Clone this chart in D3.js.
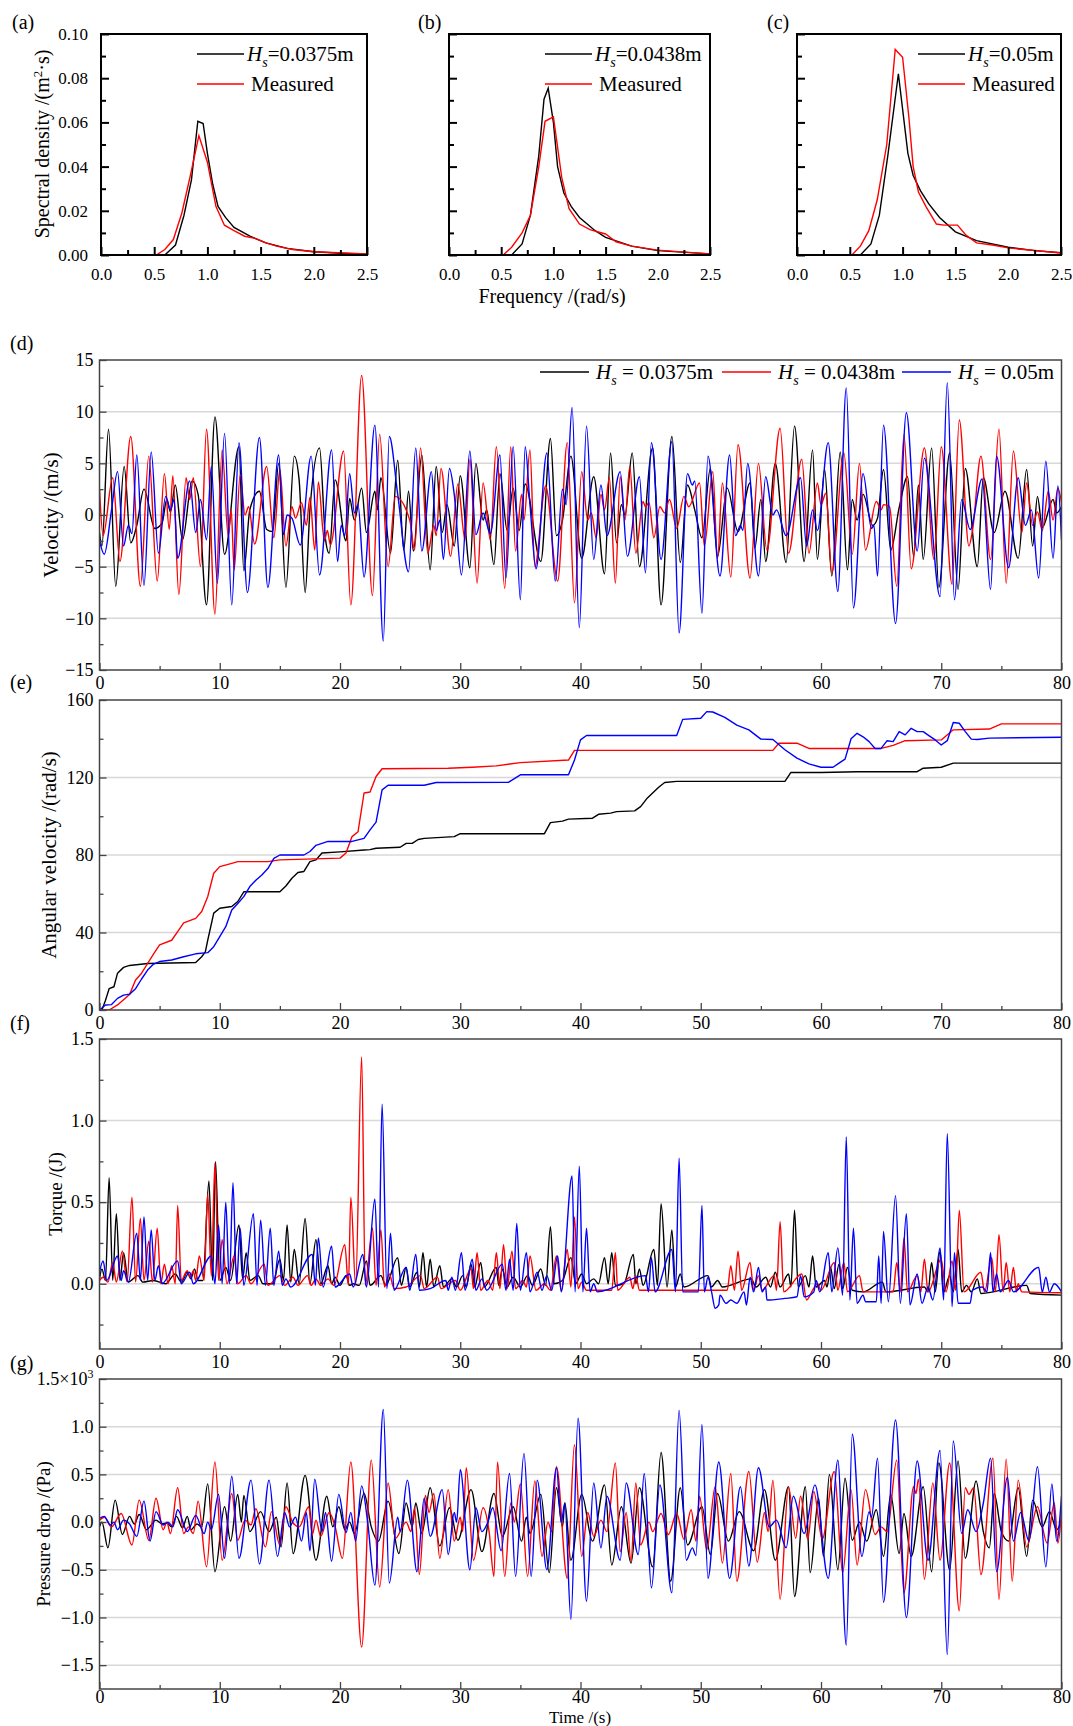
<!DOCTYPE html>
<html><head><meta charset="utf-8">
<script src="https://cdn.jsdelivr.net/npm/d3@7"></script>
<style>body{margin:0;background:#fff} svg text{font-family:"Liberation Serif","Times New Roman",Times,serif}</style>
</head><body>
<script>
// ---------- DATA ----------
const specTicksX = [0,0.5,1.0,1.5,2.0,2.5];
const specTicksY = [0,0.02,0.04,0.06,0.08,0.10];
const timeTicks = [0,10,20,30,40,50,60,70,80];
const legendHs = ["0.0375m","0.0438m","0.05m"];

const specA_black = [[0.6,0],[0.7,0.0045],[0.78,0.018],[0.85,0.034],[0.91,0.0605],[0.96,0.0595],[1.0,0.046],[1.05,0.032],[1.1,0.022],[1.17,0.017],[1.25,0.0125],[1.4,0.0085],[1.55,0.0055],[1.75,0.003],[2.0,0.0015],[2.25,0.0008],[2.5,0.0004]];
const specA_red = [[0.52,0],[0.6,0.0025],[0.68,0.007],[0.76,0.019],[0.84,0.036],[0.92,0.054],[1.0,0.042],[1.08,0.022],[1.16,0.0135],[1.25,0.011],[1.35,0.0085],[1.45,0.0075],[1.55,0.0055],[1.65,0.004],[1.8,0.0025],[2.0,0.0015],[2.5,0.0005]];
const specB_black = [[0.6,0],[0.7,0.005],[0.78,0.018],[0.86,0.045],[0.91,0.0705],[0.95,0.0755],[1.0,0.06],[1.04,0.04],[1.1,0.028],[1.17,0.022],[1.25,0.017],[1.4,0.011],[1.5,0.008],[1.75,0.004],[2.0,0.002],[2.5,0.0005]];
const specB_red = [[0.52,0],[0.6,0.0035],[0.7,0.01],[0.78,0.018],[0.86,0.04],[0.92,0.0605],[1.0,0.0625],[1.08,0.035],[1.15,0.021],[1.25,0.014],[1.35,0.0115],[1.5,0.0095],[1.6,0.006],[1.75,0.004],[2.0,0.0022],[2.5,0.0005]];
const specC_black = [[0.6,0],[0.7,0.005],[0.78,0.018],[0.86,0.045],[0.96,0.082],[1.0,0.066],[1.05,0.046],[1.1,0.036],[1.17,0.029],[1.25,0.023],[1.35,0.017],[1.5,0.0105],[1.7,0.0065],[2.0,0.0035],[2.25,0.002],[2.5,0.001]];
const specC_red = [[0.52,0],[0.6,0.004],[0.68,0.011],[0.76,0.025],[0.85,0.05],[0.93,0.093],[1.0,0.0895],[1.06,0.062],[1.1,0.04],[1.15,0.0285],[1.22,0.022],[1.32,0.014],[1.39,0.0135],[1.52,0.0135],[1.6,0.009],[1.7,0.0055],[1.85,0.0045],[2.0,0.0032],[2.5,0.0009]];

// (d) velocity, [time, value] at peaks/troughs
const vel_0375 = [[0,-1.7],[0.2,-3],[0.75,8.3],[1.35,-6.9],[2.05,4.7],[2.6,-2.7],[3.1,-1.0],[3.7,2.5],[4.6,-1.3],[5.2,-0.8],[5.6,1.5],[5.9,0.3],[6.3,2.9],[6.9,-2.4],[7.7,3.3],[8.2,2.0],[8.9,-8.7],[9.6,9.5],[10.4,-3.8],[11.6,6.6],[12.0,-5.4],[12.5,0.5],[13.3,2.3],[13.9,-1.4],[14.4,-1.6],[14.9,5.0],[15.5,-7.0],[16.2,5.7],[16.6,3.4],[17.1,-7.5],[17.5,0.5],[18.3,6.5],[18.8,-2.4],[19.1,-3.7],[19.6,3.4],[20.5,-2.5],[20.8,1.6],[21.2,-0.5],[21.8,2.6],[22.2,-1.7],[22.9,2.3],[23.1,0.5],[23.4,3.6],[24.2,-3.7],[24.8,5.3],[25.3,-3.4],[25.7,2.3],[26.1,-3.5],[26.8,5.8],[27.5,-5.3],[28.0,4.7],[28.5,-1.7],[28.9,1.0],[29.5,-3.0],[30.0,3.8],[30.8,-5.1],[31.3,5.0],[31.9,-0.5],[32.2,0.5],[32.8,-4.8],[33.3,4.0],[33.9,-1.5],[34.4,2.6],[34.9,-1.5],[35.4,3.0],[36.7,-4.5],[37.5,7.4],[38.0,-2.0],[38.5,-0.5],[39.2,5.7],[40.1,-4.2],[41.1,3.7],[42.0,-5.7],[42.5,6.0],[43.0,-2.7],[43.4,1.0],[43.7,0],[44.3,6.0],[44.9,-5.0],[46.0,6.5],[46.7,-8.7],[47.6,7.6],[48.3,-4.6],[48.9,2.9],[49.5,0.5],[50.1,-2.2],[50.8,4.5],[51.4,-4.0],[52.2,2.6],[53.1,-1.6],[54.1,3.1],[54.5,-3.2],[55.0,1.5],[55.4,-4.5],[56.2,5.0],[57.1,-4.6],[57.8,8.6],[58.6,-4.5],[59.3,6.3],[59.7,-4.3],[60.3,4.4],[60.9,-5.9],[61.6,6.1],[62.2,-5.3],[62.6,1.5],[63.0,-0.5],[63.5,2.0],[64.3,-1.0],[64.7,-0.3],[65.2,4.4],[65.8,-3.4],[66.5,0.7],[67.2,3.7],[67.7,-4.0],[68.1,2.9],[68.5,-4.3],[69.2,6.5],[69.8,-7.0],[70.7,6.0],[71.4,-7.2],[72.0,4.5],[73.0,-5.0],[73.5,3.6],[74.4,-1.7],[75.3,2.3],[76.4,-4.2],[77.1,4.4],[77.6,-3.0],[78.0,1.8],[78.4,-1.2],[79.3,1.5],[79.6,0.2],[80,0.8]];
const vel_0438 = [[0,2.5],[0.3,-2.0],[1.1,3.6],[1.7,-4.5],[2.6,7.6],[3.4,-6.9],[4.1,5.7],[4.8,-6.4],[5.4,4.0],[5.8,-1.4],[6.1,3.8],[6.6,-7.7],[7.2,3.6],[7.5,1.5],[7.8,3.6],[8.4,-5.0],[8.9,8.3],[9.6,-9.6],[10.2,6.3],[10.7,-2.0],[10.95,0.5],[11.2,-5.3],[11.7,3.9],[12.1,0.0],[12.4,0.8],[12.9,-2.8],[13.9,4.7],[14.5,-2.2],[15.0,4.4],[15.5,-3.0],[16.0,0.8],[16.3,-0.3],[16.8,1.2],[17.2,-1.0],[17.5,1.7],[17.9,-3.4],[18.2,3.2],[18.7,-2.5],[18.95,-1.5],[19.2,-2.9],[20.3,6.2],[20.9,-8.7],[21.8,13.5],[22.7,-7.8],[23.3,7.8],[24.0,-5.0],[24.6,1.8],[25.8,-0.5],[26.2,-3.4],[26.7,6.5],[27.3,-3.7],[27.8,-1.0],[28.0,-2.0],[28.4,4.5],[29.2,-4.0],[29.8,3.0],[30.4,-2.4],[30.8,5.4],[31.4,-6.6],[31.9,3.1],[32.5,-2.4],[33.0,6.6],[33.7,-7.1],[34.2,6.6],[34.6,-3.5],[35.1,2.0],[35.3,-0.5],[35.8,6.3],[36.2,-5.0],[37.1,2.8],[38.1,-6.4],[38.9,7.0],[39.5,-8.5],[40.1,4.2],[40.6,-0.5],[40.9,0.2],[41.3,-2.2],[41.7,2.0],[42.0,0.5],[42.4,3.6],[42.9,-6.6],[43.3,3.7],[43.7,-0.5],[44.1,4.7],[44.6,-3.7],[45.2,1.3],[45.4,0.8],[45.7,1.2],[46.1,-2.2],[46.6,0.8],[47.0,0.2],[47.4,1.5],[48.0,-1.3],[48.6,1.8],[49.0,0.8],[49.9,3.1],[50.3,-3.0],[51.0,4.2],[51.4,-4.2],[51.8,3.1],[52.5,-6.0],[53.1,6.8],[54.1,-6.1],[54.8,5.0],[55.5,-3.4],[56.6,8.4],[57.3,-3.7],[58.4,5.4],[59.0,-3.7],[59.7,3.1],[60.0,1.0],[60.4,2.1],[60.9,-5.6],[61.9,6.0],[62.6,-3.8],[63.2,5.0],[63.7,-3.4],[64.6,1.3],[65.0,0.5],[65.2,1.0],[65.7,0.8],[66.3,-6.9],[66.9,7.8],[67.5,-5.2],[68.6,6.5],[69.4,-4.3],[70.0,6.6],[70.9,-6.7],[71.5,9.2],[72.3,-3.0],[72.6,-1.5],[73.3,5.7],[74.1,-4.3],[74.8,8.3],[75.4,-6.6],[76.0,6.2],[76.7,-1.7],[77.1,3.1],[77.6,-1.0],[78.0,0.3],[78.4,-1.5],[78.9,2.3],[79.3,-0.5],[79.7,2.6],[80,1.2]];
const vel_05 = [[0,-2.5],[0.4,-3.8],[1.0,0.5],[1.5,4.2],[2.0,-3.0],[2.4,-1.0],[2.7,-1.8],[3.1,5.8],[3.7,-6.8],[4.3,6.1],[4.9,-3.7],[5.5,1.8],[5.9,0.5],[6.2,1.5],[6.5,-4.2],[7.5,3.3],[8.0,-1.7],[8.4,1.5],[8.9,-2.4],[9.3,4.7],[9.8,-6.6],[10.4,7.9],[11.0,-8.7],[11.6,7.0],[12.3,-7.5],[13.3,7.5],[14.0,-7.0],[14.9,5.8],[15.3,-1.9],[15.6,0.0],[16.0,-0.3],[16.7,-2.9],[17.6,5.7],[18.3,-5.8],[19.3,6.3],[19.8,-4.5],[20.1,-1.0],[20.4,-2.0],[20.8,4.0],[21.2,0.2],[21.5,1.0],[22.0,-6.0],[22.9,8.7],[23.6,-12.2],[24.1,7.6],[24.8,2.0],[25.7,-5.5],[26.3,6.5],[26.8,-3.5],[27.6,4.2],[28.0,-1.5],[28.3,-0.5],[28.6,-4.3],[29.1,4.5],[29.5,2.0],[30.1,-5.8],[30.8,6.2],[31.3,-1.9],[31.9,0.2],[32.5,-1.8],[33.3,5.8],[33.8,-6.1],[34.4,6.6],[35.0,-8.2],[35.4,6.6],[35.8,1.0],[36.3,-5.2],[37.2,6.0],[37.9,-6.4],[38.5,2.5],[38.8,1.0],[39.3,10.4],[39.9,-10.9],[40.5,8.6],[41.1,-4.3],[41.7,2.9],[42.2,-2.0],[43.3,4.2],[43.9,-4.0],[44.9,3.7],[45.4,-5.6],[45.9,7.0],[46.7,-4.3],[47.6,7.1],[48.2,-11.4],[48.9,4.0],[49.3,2.9],[49.5,3.3],[50.1,-9.5],[50.6,5.7],[51.6,-5.9],[52.4,5.8],[52.9,-2.0],[53.3,-1.0],[53.5,-1.5],[53.9,5.0],[54.8,-5.9],[55.4,3.7],[56.0,0.0],[56.3,0.5],[57.1,-2.0],[58.3,3.6],[58.8,-3.0],[59.3,0.5],[59.7,-1.5],[60.6,7.0],[61.4,-7.4],[62.1,12.3],[62.7,-9.0],[63.5,4.0],[64.2,-1.3],[64.4,-1.0],[64.7,-5.9],[65.2,8.7],[66.2,-10.5],[67.1,9.9],[68.0,-3.5],[68.6,5.5],[69.9,-7.9],[70.5,12.8],[71.1,-8.2],[71.7,1.5],[72.4,-1.4],[73.4,3.5],[74.1,-7.2],[74.6,5.7],[75.6,-5.1],[76.4,3.6],[77.0,-1.0],[77.5,0.5],[78.1,-6.1],[78.7,5.2],[79.3,-4.2],[79.7,2.8],[80,-2.4]];

// (e) angular velocity
const ang_0375 = [[0,0],[0.2,0],[0.5,5],[0.8,11],[1.2,12],[1.5,19],[2.0,22],[2.5,23],[4,24],[8,24.5],[8.5,27.5],[8.8,30],[9.0,36],[9.5,50],[10,52.5],[11,53.4],[11.5,56],[12,61],[15,61],[15.5,64],[16,68],[16.5,71],[17,71.5],[17.5,76.6],[18,77.5],[18.5,81],[20,81.6],[22,82.6],[22.5,82.8],[23,83.5],[25,84],[25.5,86],[26,86],[26.5,88],[27,88.6],[29.5,89.5],[30,91],[37,91],[37.5,96.7],[38.5,97.5],[39,98.5],[41,99],[41.5,101],[42.5,101.6],[43,102.4],[44.5,102.8],[45,105],[45.5,109],[46,112],[46.5,115],[47,117.4],[48,118],[57,118],[57.5,122.6],[60,122.6],[63,123],[68,123],[68.5,124.8],[70,125.3],[71,127.4],[80,127.4]];
const ang_0438 = [[0,0],[0.8,0],[1.5,2.6],[2.5,8],[3,15.5],[3.5,19],[4,24],[4.5,29],[5,33.6],[6,36],[6.5,40.5],[7,45],[8,47.3],[8.5,50.8],[9,58.5],[9.5,70.6],[10,74],[11,75.7],[11.5,76.6],[14,76.6],[15,77.5],[20,78.4],[20.5,81],[21,89.5],[21.5,92],[22,112],[22.5,112.5],[23,120.5],[23.5,124.5],[29,124.8],[31,125.3],[33,126],[35,127.7],[39,129],[39.5,134],[56,134],[56.5,137.7],[58,137.7],[59,135],[65,135],[66,136.6],[67,139],[70,139.4],[71,144.6],[74,145],[75,147.7],[80,147.7]];
const ang_05 = [[0,0],[0.5,2.6],[1.0,2.8],[1.5,6],[2,7.7],[2.5,8.2],[3,11],[3.5,16],[4,20.6],[4.5,23.7],[5,25],[6,25.8],[7,27.5],[8,29],[9,29.6],[9.5,32.7],[10,37.9],[10.5,43],[11,51.6],[11.5,55],[12,58.5],[12.5,63.7],[13,67],[13.5,69.7],[14,73],[14.5,78.3],[15,80],[17,80],[17.5,81.8],[18,85],[19,87],[21,87],[22,88.6],[22.5,93],[23,97],[23.5,113.6],[24,116],[27,116],[28,117.4],[34,117.5],[35,121.4],[39,121.4],[39.5,129],[40,139.4],[40.5,141.7],[48,141.7],[48.5,150],[50,150.6],[50.5,154],[51,153.8],[52,151],[53,147],[54,144.6],[55,139.8],[56,139.6],[57,134.3],[58,130],[59,127],[60,125.3],[61,125.3],[61.5,127.4],[62,129.5],[62.5,140],[63,142.8],[63.5,141],[64,138.5],[64.5,135],[65,135],[65.5,139],[66,138.5],[66.5,143.7],[67,142],[67.5,145.4],[68,143.7],[68.5,143.7],[69,141.5],[69.5,139.4],[70,136.8],[70.5,139],[71,148.4],[71.5,148],[72,143.7],[72.5,139.8],[73,139.6],[74,140.3],[80,140.8]];

// (f) torque
const tq_0375 = [[0,0.03],[0.2,0.09],[0.5,0.02],[0.8,0.65],[1.1,0.02],[1.4,0.43],[1.7,0.02],[2.0,0.19],[2.4,0.01],[3.2,0.05],[3.6,0.01],[4.5,0.02],[5.5,0.0],[6.3,0.06],[6.8,0.01],[7.3,0.07],[7.6,0.03],[7.9,0.09],[8.2,0.02],[8.6,0.02],[9.1,0.63],[9.4,0.02],[9.65,0.75],[10.0,0.02],[10.5,0.1],[10.9,0.02],[11.6,0.36],[11.9,0.03],[12.2,0.19],[12.5,0.02],[13.2,0.05],[13.6,0.0],[14.4,0.0],[15.0,0.15],[15.3,0.02],[15.6,0.36],[15.9,0.01],[16.2,0.21],[16.6,0.0],[17.1,0.4],[17.5,0.0],[18.0,0.27],[18.4,0.0],[19.0,0.11],[19.3,0.0],[19.6,0.04],[20.0,-0.01],[20.5,0.05],[20.8,-0.01],[21.1,0.0],[21.6,-0.01],[22.2,0.14],[22.5,-0.01],[23.4,0.05],[23.8,-0.01],[24.8,0.16],[25.1,-0.01],[25.5,0.1],[25.8,-0.02],[26.4,0.07],[26.6,-0.02],[26.9,0.19],[27.2,-0.02],[27.5,0.15],[27.8,-0.02],[28.3,0.11],[28.6,-0.02],[29.3,0.03],[29.7,-0.02],[30.2,0.05],[30.5,-0.02],[30.9,0.12],[31.2,-0.02],[31.7,0.13],[32.0,-0.02],[33.0,0.1],[33.2,-0.01],[33.5,0.09],[33.9,-0.02],[34.4,0.04],[35.0,-0.02],[35.6,0.05],[36.0,-0.01],[36.7,0.09],[37.1,-0.01],[37.5,0.35],[37.8,0.0],[38.5,0.02],[39.2,0.16],[39.6,0.0],[40.1,0.06],[40.5,0.0],[41.1,0.03],[41.5,0.0],[42.0,0.16],[42.3,0.0],[42.6,0.19],[42.9,-0.01],[43.6,0.0],[44.4,0.18],[44.6,0.0],[44.9,0.09],[45.2,-0.01],[46.1,0.21],[46.4,-0.01],[46.7,0.49],[47.2,-0.02],[47.6,0.33],[47.9,-0.02],[48.3,0.06],[48.6,-0.02],[50.6,0.05],[50.9,-0.02],[51.4,0.02],[51.8,-0.02],[54.2,0.03],[54.6,-0.02],[55.4,0.04],[55.8,-0.02],[56.2,0.07],[56.6,-0.02],[57.3,0.06],[57.5,-0.02],[57.8,0.45],[58.1,-0.02],[58.7,0.05],[59.0,-0.02],[59.3,0.17],[59.6,-0.02],[60.3,0.02],[60.5,-0.02],[60.8,0.1],[61.1,-0.03],[61.5,0.12],[61.8,-0.03],[62.2,0.1],[62.6,-0.04],[63.5,-0.05],[65.1,0.01],[65.4,-0.05],[68.6,-0.02],[68.9,-0.05],[69.2,0.13],[69.5,-0.05],[69.9,0.2],[70.2,-0.05],[70.7,0.05],[71.0,-0.05],[71.4,0.21],[71.7,-0.05],[72.1,-0.01],[72.5,-0.05],[73.0,0.03],[73.3,-0.06],[77.1,-0.01],[77.4,-0.06],[80,-0.07]];
const tq_0438 = [[0,0.02],[0.3,0.04],[0.7,0.01],[1.1,0.13],[1.4,0.01],[1.9,0.2],[2.3,0.01],[2.7,0.53],[3.0,0.01],[3.4,0.4],[3.7,0.02],[4.1,0.26],[4.4,0.01],[4.8,0.34],[5.1,0.0],[5.4,0.12],[5.7,0.0],[6.0,0.11],[6.3,0.0],[6.5,0.48],[6.8,0.02],[7.3,0.08],[7.55,0.04],[7.8,0.08],[8.0,0.02],[8.3,0.17],[8.7,0.02],[9.0,0.55],[9.3,0.05],[9.6,0.74],[9.9,0.02],[10.2,0.27],[10.6,0.0],[11.2,0.17],[11.5,0.0],[12.2,0.05],[12.6,0.0],[13.7,0.12],[14.0,-0.01],[15.0,0.05],[15.4,-0.01],[16.1,0.04],[16.5,-0.01],[17.3,0.05],[17.6,-0.01],[18.0,0.03],[18.4,-0.01],[19.0,0.03],[19.5,-0.01],[20.4,0.24],[20.7,-0.01],[20.9,0.53],[21.3,-0.01],[21.8,1.39],[22.1,-0.01],[22.7,0.34],[23.0,-0.01],[23.4,0.33],[23.7,-0.02],[24.1,0.06],[24.5,-0.03],[25.5,-0.02],[26.7,0.05],[27.0,-0.03],[28.1,0.04],[28.4,-0.03],[29.6,0.02],[30.0,-0.04],[30.9,0.09],[31.1,-0.03],[31.4,0.19],[31.7,-0.04],[32.3,0.02],[32.7,-0.04],[33.0,0.19],[33.3,-0.03],[33.6,0.24],[33.9,-0.03],[34.3,0.2],[34.6,-0.03],[35.2,0.02],[35.5,-0.02],[35.8,0.17],[36.3,-0.04],[37.0,0.0],[37.5,-0.04],[38.0,0.17],[38.4,-0.04],[38.9,0.21],[39.2,-0.02],[39.5,0.41],[39.8,-0.03],[40.1,0.01],[40.5,-0.04],[42.6,-0.04],[42.9,0.19],[43.1,-0.04],[44.1,0.04],[44.35,-0.03],[44.6,0.05],[44.9,-0.04],[52.2,-0.04],[52.5,0.11],[52.8,-0.04],[53.1,0.2],[53.4,-0.04],[54.1,0.13],[54.4,-0.04],[54.8,0.05],[55.1,-0.04],[56.1,0.05],[56.3,-0.04],[56.6,0.38],[56.9,-0.05],[58.4,0.06],[58.8,-0.1],[59.3,-0.04],[59.7,0.0],[60.0,-0.04],[61.1,0.13],[61.4,-0.04],[61.9,0.13],[62.2,-0.05],[63.2,0.05],[63.5,-0.05],[66.0,-0.05],[66.3,0.13],[66.6,-0.05],[66.9,0.28],[67.2,-0.05],[68.0,0.05],[68.3,-0.05],[68.6,0.15],[68.9,-0.05],[70.0,0.15],[70.4,-0.05],[70.9,0.14],[71.2,-0.04],[71.5,0.45],[71.9,-0.05],[73.3,0.07],[73.6,-0.05],[74.2,0.16],[74.5,-0.05],[74.8,0.3],[75.15,-0.05],[75.4,0.13],[75.7,-0.05],[76.0,0.1],[76.25,-0.05],[76.4,0.0],[76.7,-0.05],[80,-0.055]];
const tq_05 = [[0,0.07],[0.3,0.14],[0.6,0.02],[1.5,0.17],[1.8,0.02],[2.0,0.08],[2.4,0.01],[3.1,0.31],[3.4,0.02],[3.7,0.41],[4.0,0.02],[4.3,0.33],[4.6,0.02],[4.9,0.11],[5.2,0.0],[6.5,0.14],[6.8,0.0],[7.5,0.07],[7.8,0.0],[9.3,0.17],[9.6,0.0],[9.9,0.36],[10.2,0.0],[10.5,0.5],[10.8,0.0],[11.1,0.62],[11.4,0.0],[11.7,0.34],[12.0,-0.01],[12.8,0.43],[13.1,-0.01],[13.4,0.39],[13.8,-0.01],[14.2,0.34],[14.5,-0.01],[14.9,0.2],[15.2,-0.01],[15.5,0.03],[15.9,-0.02],[17.7,0.18],[17.95,-0.01],[18.2,0.28],[18.6,-0.02],[19.3,0.23],[19.6,-0.02],[20.8,0.06],[21.1,-0.02],[21.9,0.18],[22.2,-0.02],[22.9,0.52],[23.2,-0.02],[23.5,1.1],[23.9,-0.03],[24.2,0.31],[24.5,-0.04],[25.5,0.1],[25.8,-0.04],[26.3,0.18],[26.6,-0.04],[27.5,-0.03],[28.8,0.02],[29.0,-0.04],[29.3,0.04],[29.6,-0.04],[30.1,0.19],[30.4,-0.04],[31.0,0.15],[31.3,-0.04],[31.8,0.03],[32.2,-0.04],[33.5,0.12],[33.8,-0.04],[34.1,0.15],[34.4,-0.04],[34.7,0.37],[35.0,-0.04],[35.5,0.19],[35.8,-0.05],[36.4,0.07],[36.8,-0.04],[37.2,0.05],[37.6,-0.04],[38.1,0.17],[38.4,-0.05],[39.3,0.66],[39.55,-0.05],[39.9,0.72],[40.2,-0.05],[40.5,0.34],[40.8,-0.05],[41.1,0.0],[41.4,-0.05],[45.4,0.05],[45.65,-0.05],[45.9,0.16],[46.2,-0.05],[47.6,0.21],[47.9,-0.05],[48.2,0.77],[48.5,-0.05],[49.8,-0.05],[50.1,0.48],[50.3,-0.05],[50.6,0.04],[50.9,-0.05],[51.2,-0.15],[51.5,-0.13],[51.6,-0.07],[52.1,-0.12],[52.5,-0.1],[53.0,-0.12],[53.6,-0.05],[53.8,-0.13],[54.1,0.04],[54.4,-0.05],[54.8,0.1],[55.1,-0.05],[55.4,-0.02],[55.5,-0.1],[57.0,-0.09],[58.0,-0.08],[58.3,0.05],[58.6,-0.08],[59.4,-0.05],[59.6,0.02],[59.9,-0.05],[60.6,0.19],[60.9,-0.05],[61.4,0.22],[61.8,-0.07],[62.1,0.9],[62.4,-0.1],[62.7,0.34],[63.0,-0.12],[63.5,-0.07],[63.7,-0.11],[64.6,-0.11],[64.8,0.17],[65.0,-0.12],[65.2,0.32],[65.6,-0.11],[66.2,0.54],[66.6,-0.12],[67.1,0.43],[67.4,-0.13],[68.0,0.06],[68.4,-0.12],[68.9,-0.02],[69.3,-0.1],[69.9,0.22],[70.2,-0.1],[70.5,0.92],[70.9,-0.14],[71.1,0.19],[71.4,-0.12],[72.4,-0.12],[72.6,-0.04],[73.4,-0.02],[73.8,-0.05],[74.1,0.19],[74.3,-0.05],[74.6,0.06],[74.9,-0.05],[75.6,0.02],[76.0,-0.05],[78.1,0.1],[78.4,-0.05],[78.7,0.04],[79.0,-0.05],[79.4,0.0],[80,-0.05]];

// (g) pressure drop (x10^3 Pa)
const pd_0375 = [[0,-0.05],[0.2,0.0],[0.7,-0.27],[1.3,0.23],[1.9,-0.13],[2.5,0.06],[2.9,-0.02],[3.3,0.08],[3.9,-0.08],[4.7,0.02],[5.2,-0.02],[5.6,-0.01],[6.0,-0.05],[6.4,0.06],[6.9,-0.06],[7.3,0.06],[7.6,-0.08],[8.1,-0.02],[8.5,-0.05],[9.0,0.4],[9.6,-0.52],[10.4,0.16],[10.9,-0.2],[11.5,0.29],[11.8,0.0],[12.0,0.28],[12.5,-0.1],[13.4,0.11],[14.1,-0.1],[14.7,0.05],[15.1,-0.26],[15.6,0.41],[16.1,-0.33],[17.1,0.49],[18.0,-0.4],[18.9,0.27],[19.4,-0.05],[19.9,0.16],[20.4,-0.08],[20.8,0.0],[21.2,-0.12],[22.0,0.3],[22.6,-0.05],[23.2,-0.2],[24.0,0.22],[24.9,-0.33],[25.5,0.2],[26.0,-0.05],[26.3,0.2],[26.8,-0.12],[27.5,0.36],[28.3,-0.25],[29.1,0.15],[29.8,-0.19],[30.9,0.34],[31.8,-0.31],[32.8,0.3],[33.5,-0.15],[34.4,0.16],[35.1,-0.2],[35.5,0.05],[35.8,-0.12],[36.7,0.29],[37.4,-0.53],[38.0,0.36],[38.5,-0.05],[38.7,0.2],[39.2,-0.4],[40.1,0.29],[41.0,-0.2],[42.0,0.39],[42.6,-0.45],[43.4,0.16],[44.2,-0.43],[44.9,0.36],[46.0,-0.47],[46.7,0.73],[47.5,-0.62],[48.3,0.36],[48.9,-0.24],[50.1,0.16],[50.8,-0.34],[51.4,0.3],[52.3,-0.2],[53.2,0.11],[54.4,-0.3],[55.3,0.34],[56.2,-0.4],[57.3,0.37],[57.8,-0.78],[58.7,0.37],[59.1,-0.53],[59.8,0.25],[60.2,-0.36],[60.7,0.5],[61.4,-0.5],[62.0,0.46],[62.6,-0.19],[63.2,0.0],[63.8,-0.2],[64.6,0.13],[65.2,-0.36],[65.8,0.29],[66.5,-0.33],[66.9,0.09],[67.5,-0.36],[68.5,0.37],[69.2,-0.52],[69.8,0.62],[70.7,-0.5],[71.4,0.64],[72.0,-0.38],[72.9,0.43],[73.5,-0.1],[74.0,-0.27],[74.4,0.3],[75.0,-0.1],[75.6,-0.2],[76.4,0.36],[77.1,-0.36],[77.6,0.23],[78.4,-0.05],[79.0,0.11],[79.6,-0.08],[80,0.02]];
const pd_0438 = [[0,0.02],[0.4,0.05],[1.0,-0.05],[1.8,0.09],[2.7,-0.24],[3.3,0.23],[4.1,-0.19],[4.7,0.25],[5.3,-0.08],[5.6,0.0],[5.9,-0.12],[6.5,0.36],[7.0,-0.12],[7.4,-0.05],[7.8,-0.12],[8.2,0.22],[8.9,-0.47],[9.6,0.63],[10.2,-0.4],[11.0,0.3],[11.5,-0.19],[12.1,0.02],[12.6,-0.03],[13.0,0.14],[13.8,-0.26],[14.3,0.11],[15.0,-0.24],[15.5,0.16],[16.1,-0.01],[16.6,-0.05],[17.4,0.16],[17.7,-0.13],[18.0,0.02],[18.4,-0.15],[19.1,0.1],[19.6,-0.05],[20.2,-0.38],[20.9,0.63],[21.8,-1.31],[22.6,0.65],[23.3,-0.68],[24.0,0.41],[24.6,-0.17],[25.5,0.0],[25.9,-0.1],[26.2,0.15],[26.6,-0.55],[27.1,0.28],[27.4,0.1],[27.8,0.3],[28.3,-0.38],[29.0,0.34],[29.5,-0.2],[30.0,0.05],[30.2,-0.1],[30.5,0.57],[31.1,-0.4],[31.9,0.15],[32.4,-0.1],[32.8,-0.57],[33.1,0.63],[33.7,-0.57],[34.2,0.2],[34.5,0.0],[35.0,0.4],[35.6,-0.57],[36.2,0.43],[36.8,-0.36],[37.3,0.0],[37.6,-0.1],[38.0,0.58],[38.9,-0.59],[39.5,0.81],[40.1,-0.36],[40.6,0.1],[41.1,-0.15],[41.7,0.02],[42.2,-0.1],[42.9,0.62],[43.3,-0.31],[43.8,0.1],[44.2,-0.41],[44.6,0.41],[45.0,-0.24],[45.7,0.0],[46.0,-0.1],[46.7,0.09],[47.3,-0.13],[48.0,0.09],[48.6,-0.18],[49.2,0.13],[49.6,-0.2],[49.9,0.27],[50.5,-0.29],[51.2,0.37],[51.8,-0.43],[52.5,0.51],[53.0,-0.62],[54.0,0.53],[54.7,-0.42],[55.3,0.1],[55.6,-0.1],[56.0,0.44],[56.6,-0.81],[57.3,0.37],[57.9,-0.17],[58.3,0.27],[58.9,-0.18],[59.4,0.32],[60.1,-0.18],[61.1,0.53],[61.8,-0.53],[62.5,0.34],[63.0,-0.45],[63.7,0.34],[64.5,-0.13],[65.0,-0.05],[65.5,-0.1],[66.3,0.65],[66.9,-0.74],[67.7,0.37],[67.9,0.3],[68.1,0.45],[68.6,-0.6],[69.3,0.41],[69.9,-0.4],[70.7,0.62],[71.5,-0.93],[72.0,0.36],[72.3,0.29],[72.7,0.36],[73.3,-0.55],[74.3,0.67],[74.8,-0.81],[75.4,0.66],[75.9,-0.62],[76.4,0.44],[77.1,-0.26],[78.0,0.16],[78.8,-0.22],[79.4,0.2],[79.7,-0.22],[80,0.1]];
const pd_05 = [[0,0.04],[0.4,0.06],[0.9,-0.03],[1.2,0.0],[1.5,-0.08],[2.0,0.02],[2.5,-0.02],[3.1,-0.15],[3.7,0.22],[4.2,-0.2],[4.7,0.11],[5.3,-0.03],[5.7,0.0],[6.1,-0.05],[6.5,0.13],[7.3,-0.1],[8.0,0.07],[8.7,-0.12],[9.0,0.0],[9.3,-0.08],[9.9,0.29],[10.4,-0.38],[11.0,0.48],[11.6,-0.38],[12.6,0.44],[13.3,-0.44],[14.1,0.44],[14.8,-0.36],[15.4,0.1],[15.8,-0.05],[16.3,0.05],[16.8,-0.2],[17.2,0.1],[17.5,-0.3],[17.9,0.45],[18.5,-0.1],[18.8,0.1],[19.3,-0.41],[19.9,0.29],[20.5,-0.11],[20.9,0.1],[21.3,-0.2],[21.8,0.38],[22.3,0.0],[22.9,-0.66],[23.6,1.18],[24.1,-0.64],[24.8,0.05],[25.0,-0.1],[25.6,0.44],[26.4,-0.52],[27.0,0.25],[27.5,-0.15],[28.5,0.34],[29.0,-0.34],[29.5,0.1],[29.7,0.0],[30.0,0.55],[30.8,-0.5],[31.3,0.15],[31.8,-0.1],[32.3,0.0],[32.7,0.15],[33.4,-0.3],[34.1,0.51],[34.6,-0.57],[35.3,0.72],[35.9,-0.57],[36.4,0.44],[37.2,-0.5],[38.0,0.57],[38.4,0.0],[38.7,0.2],[39.2,-1.02],[39.8,1.09],[40.5,-0.83],[41.1,0.41],[41.7,-0.27],[42.2,0.27],[43.3,-0.4],[43.8,0.41],[44.8,-0.34],[45.3,0.51],[45.9,-0.69],[46.6,0.39],[47.6,-0.74],[48.2,1.17],[48.8,-0.4],[49.3,-0.27],[49.6,-0.35],[50.1,1.02],[50.6,-0.59],[51.5,0.63],[52.4,-0.59],[53.3,0.37],[54.0,-0.46],[54.8,0.57],[55.7,-0.05],[56.3,0.02],[57.1,-0.27],[57.7,0.27],[58.6,-0.12],[59.5,0.39],[60.6,-0.59],[61.4,0.65],[62.1,-1.29],[62.6,0.92],[63.4,-0.36],[64.0,0.11],[64.2,0.05],[64.7,0.67],[65.2,-0.84],[66.2,1.07],[67.1,-1.0],[68.0,0.64],[68.9,-0.4],[69.9,0.75],[70.5,-1.39],[71.0,0.85],[71.7,-0.12],[72.2,0.13],[72.9,-0.1],[73.5,0.2],[74.1,0.67],[74.6,-0.52],[75.5,0.47],[76.0,-0.2],[76.6,0.1],[77.3,-0.2],[78.0,0.58],[78.7,-0.47],[79.2,0.4],[79.6,-0.2],[80,0.27]];

// ---------- DRAWING ----------
const W = 1073, H = 1726;
const FONT = '"Liberation Serif","Times New Roman",Times,serif';
const COLORS = ["#000000", "#ff0000", "#0000ff"];
const svg = d3.select("body").append("svg")
  .attr("width", W).attr("height", H)
  .style("font-family", FONT);
svg.append("rect").attr("width", W).attr("height", H).attr("fill", "#fff");

function hsText(sel, value, size, spaced) {
  sel.append("tspan").attr("font-style", "italic").text("H");
  sel.append("tspan").attr("font-style", "italic").attr("font-size", Math.round(size*0.68)).attr("dy", size*0.28).text("s");
  sel.append("tspan").attr("dy", -size*0.28).text(spaced ? " = " + value : "=" + value);
}
function minus(s) { return String(s).replace("-", "\u2212"); }

let clipId = 0;
function clip(g, x0, y0, w, h) {
  const id = "clip" + (clipId++);
  g.append("clipPath").attr("id", id).append("rect").attr("x", x0).attr("y", y0).attr("width", w).attr("height", h);
  return "url(#" + id + ")";
}
function styleAxis(a, color, sw, fs) {
  a.attr("font-family", null).style("font-family", FONT);
  a.select(".domain").remove();
  a.selectAll("line").attr("stroke", color).attr("stroke-width", sw);
  a.selectAll("text").style("font-family", FONT).attr("font-size", fs).attr("fill", "#000");
}

// ---- spectral panels (a)(b)(c)
function specPanel(x0, x1, black, red, hsVal, legX, label, labelX, showY) {
  const x = d3.scaleLinear().domain([0, 2.5]).range([x0, x1]);
  const y = d3.scaleLinear().domain([0, 0.10]).range([255, 34]);
  const g = svg.append("g");
  const cp = clip(g, x0, 34, x1 - x0, 221);
  const line = d3.line().x(d => x(d[0])).y(d => y(d[1]));
  const lg = g.append("g").attr("clip-path", cp);
  lg.append("path").datum(black).attr("d", line).attr("fill", "none").attr("stroke", "#000").attr("stroke-width", 1.4);
  lg.append("path").datum(red).attr("d", line).attr("fill", "none").attr("stroke", "#ff0000").attr("stroke-width", 1.4);

  const ay = g.append("g").attr("transform", `translate(${x0},0)`)
    .call(d3.axisLeft(y).tickValues(specTicksY).tickSize(-8).tickPadding(13)
      .tickFormat(showY ? d3.format(".2f") : () => ""));
  const ayMinor = g.append("g").attr("transform", `translate(${x0},0)`)
    .call(d3.axisLeft(y).tickValues([0.01,0.03,0.05,0.07,0.09]).tickSize(-5).tickFormat(() => ""));
  const ax = g.append("g").attr("transform", `translate(0,255)`)
    .call(d3.axisBottom(x).tickValues(specTicksX).tickSize(-8).tickPadding(13).tickFormat(d3.format(".1f")));
  const axMinor = g.append("g").attr("transform", `translate(0,255)`)
    .call(d3.axisBottom(x).tickValues([0.25,0.75,1.25,1.75,2.25]).tickSize(-5).tickFormat(() => ""));
  [ay, ayMinor, ax, axMinor].forEach(a => styleAxis(a, "#000", 2, 17));
  g.append("rect").attr("x", x0).attr("y", 34).attr("width", x1 - x0).attr("height", 221)
    .attr("fill", "none").attr("stroke", "#000").attr("stroke-width", 2);

  g.append("line").attr("x1", legX).attr("x2", legX + 47).attr("y1", 54).attr("y2", 54).attr("stroke", "#000").attr("stroke-width", 1.4);
  hsText(g.append("text").attr("x", legX + 50).attr("y", 61).attr("font-size", 21).attr("fill", "#000"), hsVal, 21, false);
  g.append("line").attr("x1", legX).attr("x2", legX + 47).attr("y1", 84).attr("y2", 84).attr("stroke", "#ff0000").attr("stroke-width", 1.4);
  g.append("text").attr("x", legX + 54).attr("y", 91).attr("font-size", 21).attr("fill", "#000").text("Measured");

  svg.append("text").attr("x", labelX).attr("y", 29).attr("font-size", 20).text(label);
}

specPanel(101, 367, specA_black, specA_red, "0.0375m", 197, "(a)", 12, true);
specPanel(449, 710, specB_black, specB_red, "0.0438m", 545, "(b)", 418, false);
specPanel(797, 1061, specC_black, specC_red, "0.05m", 918, "(c)", 767, false);

const specLabel = svg.append("text").attr("transform", "translate(49,144) rotate(-90)").attr("text-anchor", "middle")
  .attr("font-size", 20);
specLabel.append("tspan").text("Spectral density /(m");
specLabel.append("tspan").attr("font-size", 13).attr("dy", -7).text("2");
specLabel.append("tspan").attr("dy", 7).text("\u00b7s)");
svg.append("text").attr("x", 552).attr("y", 303).attr("text-anchor", "middle").attr("font-size", 20).text("Frequency /(rad/s)");

// ---- time panels (d)-(g)
const XL = 99.5, XR = 1061.5;
const xT = d3.scaleLinear().domain([0, 80]).range([XL, XR]);

function timePanel(opt) {
  const { top, bottom, domain, majors, minors, grid, fmt, series, curve, ylabel, ylabelX, ylabelSize, label, labelY, xPad } = opt;
  const y = d3.scaleLinear().domain(domain).range([bottom, top]);
  const g = svg.append("g");
  g.selectAll("line.grid").data(grid).join("line").attr("class", "grid")
    .attr("x1", XL).attr("x2", XR).attr("y1", d => y(d)).attr("y2", d => y(d))
    .attr("stroke", "#d8d8d8").attr("stroke-width", 1.5);
  const cp = clip(g, XL, top, XR - XL, bottom - top);
  const lg = g.append("g").attr("clip-path", cp);
  const line = d3.line().x(d => xT(d[0])).y(d => y(d[1])).curve(curve);
  series.forEach((s, i) => {
    lg.append("path").datum(s).attr("d", line).attr("fill", "none")
      .attr("stroke", COLORS[i]).attr("stroke-width", 1.4).attr("stroke-linejoin", "round");
  });
  const ay = g.append("g").attr("transform", `translate(${XL},0)`)
    .call(d3.axisLeft(y).tickValues(majors).tickSize(-7).tickPadding(6).tickFormat(fmt));
  const ayMinor = g.append("g").attr("transform", `translate(${XL},0)`)
    .call(d3.axisLeft(y).tickValues(minors).tickSize(-4).tickFormat(() => ""));
  const ax = g.append("g").attr("transform", `translate(0,${bottom})`)
    .call(d3.axisBottom(xT).tickValues(timeTicks).tickSize(-7).tickPadding(xPad === undefined ? 6 : xPad).tickFormat(d3.format("d")));
  const axMinor = g.append("g").attr("transform", `translate(0,${bottom})`)
    .call(d3.axisBottom(xT).tickValues([5,15,25,35,45,55,65,75]).tickSize(-4).tickFormat(() => ""));
  [ay, ayMinor, ax, axMinor].forEach(a => styleAxis(a, "#444", 1.3, 18));
  g.append("rect").attr("x", XL).attr("y", top).attr("width", XR - XL).attr("height", bottom - top)
    .attr("fill", "none").attr("stroke", "#444").attr("stroke-width", 1.5);
  svg.append("text").attr("transform", `translate(${ylabelX},${(top + bottom) / 2}) rotate(-90)`)
    .attr("text-anchor", "middle").attr("font-size", ylabelSize).text(ylabel);
  svg.append("text").attr("x", 10).attr("y", labelY).attr("font-size", 20).text(label);
  return { g, y, ay };
}

const pd = timePanel({ top: 360, bottom: 670, domain: [-15, 15],
  majors: [-15,-10,-5,0,5,10,15], minors: [-12.5,-7.5,-2.5,2.5,7.5,12.5], grid: [-10,-5,0,5,10],
  fmt: d => minus(d), series: [vel_0375, vel_0438, vel_05], curve: d3.curveMonotoneX,
  ylabel: "Velocity /(m/s)", ylabelX: 58, ylabelSize: 21, label: "(d)", labelY: 350 });

legendHs.forEach((v, i) => {
  const lx = [540, 722, 902][i];
  pd.g.append("line").attr("x1", lx).attr("x2", lx + 49).attr("y1", 372).attr("y2", 372)
    .attr("stroke", COLORS[i]).attr("stroke-width", 1.4);
  hsText(pd.g.append("text").attr("x", lx + 56).attr("y", 379).attr("font-size", 21).attr("fill", "#000"), v, 21, true);
});

timePanel({ top: 700, bottom: 1010, domain: [0, 160],
  majors: [0,40,80,120,160], minors: [20,60,100,140], grid: [40,80,120],
  fmt: d => String(d), series: [ang_0375, ang_0438, ang_05], curve: d3.curveLinear,
  ylabel: "Angular velocity /(rad/s)", ylabelX: 56, ylabelSize: 21, label: "(e)", labelY: 689 });

timePanel({ top: 1039, bottom: 1349, domain: [-0.4, 1.5],
  majors: [0,0.5,1.0,1.5], minors: [-0.25,0.25,0.75,1.25], grid: [0,0.5,1.0],
  fmt: d3.format(".1f"), series: [tq_0375, tq_0438, tq_05], curve: d3.curveMonotoneX,
  ylabel: "Torque /(J)", ylabelX: 62, ylabelSize: 19, label: "(f)", labelY: 1030 });

const pg = timePanel({ top: 1379, bottom: 1689, domain: [-1.75, 1.5],
  majors: [-1.5,-1.0,-0.5,0,0.5,1.0,1.5], minors: [-1.25,-0.75,-0.25,0.25,0.75,1.25], grid: [-1.5,-1.0,-0.5,0,0.5,1.0],
  fmt: d => minus(d3.format(".1f")(d)), series: [pd_0375, pd_0438, pd_05], curve: d3.curveMonotoneX,
  ylabel: "Pressure drop /(Pa)", ylabelX: 50, ylabelSize: 19, label: "(g)", labelY: 1370, xPad: 1 });
pg.ay.selectAll(".tick text").filter(d => d === 1.5).text("1.5\u00d710")
  .append("tspan").attr("font-size", 12).attr("dy", -7).text("3");

svg.append("text").attr("x", 580).attr("y", 1722.5).attr("text-anchor", "middle").attr("font-size", 17).text("Time /(s)");
</script>
</body></html>
